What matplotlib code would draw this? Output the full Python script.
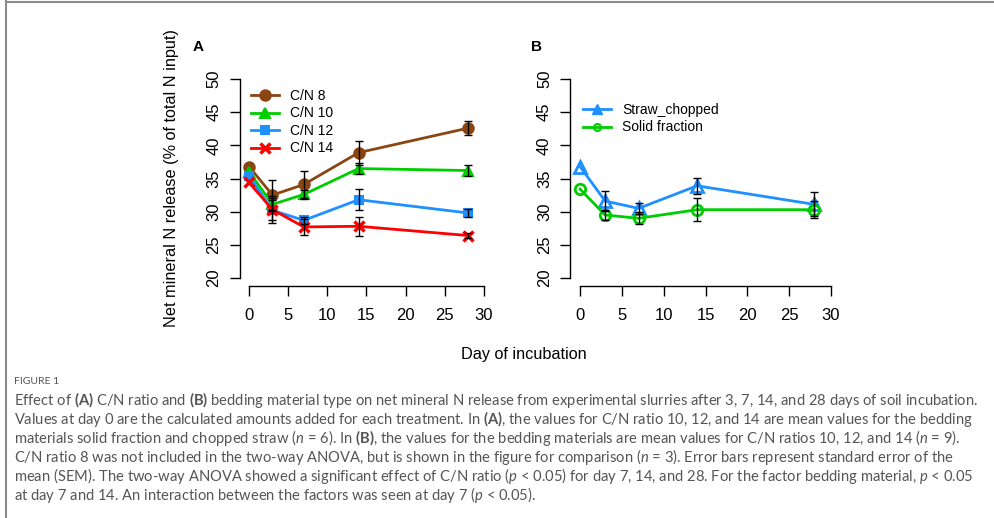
import matplotlib
matplotlib.use("Agg")
import matplotlib.pyplot as plt
from matplotlib.lines import Line2D

plt.rcParams['font.family'] = ['Liberation Sans', 'DejaVu Sans']

# ---- data ----
days = [0, 3, 7, 14, 28]

cn_labels = ['C/N 8', 'C/N 10', 'C/N 12', 'C/N 14']
cn8 = [36.8, 32.5, 34.1, 38.9, 42.6]
cn8_se = [0, 2.3, 2.0, 1.8, 1.0]
cn10 = [36.0, 31.1, 32.6, 36.5, 36.2]
cn10_se = [0, 1.0, 0.7, 0.8, 0.8]
cn12 = [35.4, 30.2, 28.7, 31.8, 29.8]
cn12_se = [0, 1.5, 0.5, 1.55, 0.6]
cn14 = [34.4, 30.3, 27.7, 27.8, 26.4]
cn14_se = [0, 2.0, 1.15, 1.4, 0.4]

bed_labels = ['Straw_chopped', 'Solid fraction']
straw = [36.8, 31.6, 30.5, 33.9, 31.1]
straw_se = [0, 1.5, 0.8, 1.2, 1.8]
solid = [33.4, 29.5, 29.0, 30.3, 30.3]
solid_se = [0, 0.7, 0.9, 1.7, 1.3]

xticks = [0, 5, 10, 15, 20, 25, 30]
yticks = [20, 25, 30, 35, 40, 45, 50]

W, H = 995, 518
fig = plt.figure(figsize=(W / 100, H / 100), dpi=100)


def px_axes(left, right, top, bottom):
    return fig.add_axes([left / W, 1 - bottom / H, (right - left) / W, (bottom - top) / H])


def style_axes(ax):
    ax.set_xlim(-1.2, 31.2)
    ax.set_ylim(18.8, 51.2)
    for s in ['top', 'right']:
        ax.spines[s].set_visible(False)
    ax.spines['left'].set_bounds(20, 50)
    ax.spines['bottom'].set_bounds(0, 30)
    for s in ['left', 'bottom']:
        ax.spines[s].set_linewidth(1.0)
    ax.set_xticks(xticks)
    ax.set_yticks(yticks)
    ax.tick_params(axis='both', length=7, width=1.0, labelsize=12)
    ax.tick_params(axis='x', pad=9)
    ax.tick_params(axis='y', pad=6)
    for lab in ax.get_yticklabels():
        lab.set_rotation(90)
        lab.set_va('center')


def series(ax, y, se, color, marker, ms, mfc=None, mew=1.5):
    ax.plot(days, y, color=color, lw=2.0, marker=marker, ms=ms,
            mfc=mfc if mfc else color, mec=color, mew=mew, zorder=3)
    ax.errorbar(days[1:], y[1:], yerr=se[1:], fmt='none', ecolor='black',
                elinewidth=1.0, capsize=3, capthick=1.0, zorder=4)


leg_kw = dict(loc='upper left', frameon=False, fontsize=10, handlelength=2.0,
              handletextpad=0.8, labelspacing=0.25, borderaxespad=0, borderpad=0)

# panel A
axA = px_axes(239.6, 493.4, 71, 286)
style_axes(axA)
series(axA, cn8, cn8_se, '#8B4513', 'o', 7.5)
series(axA, cn10, cn10_se, '#00CD00', '^', 6.5)
series(axA, cn12, cn12_se, '#1E90FF', 's', 5.5)
series(axA, cn14, cn14_se, '#FF0000', 'x', 7, mew=2.5)
axA.legend(cn_labels, bbox_to_anchor=((251 - 239.6) / 253.8, (286 - 89) / 215), **leg_kw)

# panel B
axB = px_axes(570, 841, 71, 286)
style_axes(axB)
series(axB, straw, straw_se, '#1E90FF', '^', 8.5, mfc='none', mew=2.0)
series(axB, solid, solid_se, '#00CD00', 'o', 7.5, mfc='none', mew=2.0)
hB = [Line2D([], [], color='#1E90FF', lw=2.0, marker='^', ms=7.5),
      Line2D([], [], color='#00CD00', lw=2.0, marker='o', ms=5, mfc='none', mew=1.5)]
axB.legend(hB, bed_labels, bbox_to_anchor=((583 - 570) / 271, (286 - 103) / 215), **leg_kw)

fig.text(198 / W, 1 - 47 / H, 'A', fontsize=11, fontweight='bold', ha='center', va='center')
fig.text(536 / W, 1 - 47 / H, 'B', fontsize=11, fontweight='bold', ha='center', va='center')
fig.text(172 / W, 1 - 178 / H, 'Net mineral N release (% of total N input)', rotation=90,
         fontsize=11.7, ha='center', va='center')
fig.text(524 / W, 1 - 355 / H, 'Day of incubation', fontsize=11.7, ha='center', va='center')

# caption
cap_font = 'Lato'
plt.rcParams['mathtext.fontset'] = 'custom'
plt.rcParams['mathtext.rm'] = cap_font
plt.rcParams['mathtext.it'] = cap_font + ':italic'
plt.rcParams['mathtext.bf'] = cap_font + ':bold'
cap_col = '#555555'
fig.text(14 / W, 1 - 382 / H, 'FIGURE 1', fontsize=7.5, color=cap_col,
         family=[cap_font, 'DejaVu Sans'], va='center')
cap_lines = [
    r'Effect of $\mathbf{(A)}$ C/N ratio and $\mathbf{(B)}$ bedding material type on net mineral N release from experimental slurries after 3, 7, 14, and 28 days of soil incubation.',
    r'Values at day 0 are the calculated amounts added for each treatment. In $\mathbf{(A)}$, the values for C/N ratio 10, 12, and 14 are mean values for the bedding',
    r'materials solid fraction and chopped straw ($n$ = 6). In $\mathbf{(B)}$, the values for the bedding materials are mean values for C/N ratios 10, 12, and 14 ($n$ = 9).',
    r'C/N ratio 8 was not included in the two-way ANOVA, but is shown in the figure for comparison ($n$ = 3). Error bars represent standard error of the',
    r'mean (SEM). The two-way ANOVA showed a significant effect of C/N ratio ($p$ < 0.05) for day 7, 14, and 28. For the factor bedding material, $p$ < 0.05',
    r'at day 7 and 14. An interaction between the factors was seen at day 7 ($p$ < 0.05).',
]
cap_texts = []
for i, line in enumerate(cap_lines):
    t = fig.text(14 / W, 1 - (400 + 19 * i) / H, line, fontsize=10, color=cap_col,
                 family=[cap_font, 'DejaVu Sans'], va='center')
    cap_texts.append(t)

# fit caption width to the first line span of the reference (~966 px)
renderer = fig.canvas.get_renderer()
w0 = cap_texts[0].get_window_extent(renderer).width
scale = 966 / w0
for t in cap_texts:
    t.set_fontsize(10 * scale)

# frame lines
fig.add_artist(Line2D([5.5 / W, 5.5 / W], [0, 1], color='#8c8c8c', lw=1.5))
fig.add_artist(Line2D([5.5 / W, 1], [1 - 1.5 / H, 1 - 1.5 / H], color='#8c8c8c', lw=1.5))

fig.savefig('out.png', dpi=100)
